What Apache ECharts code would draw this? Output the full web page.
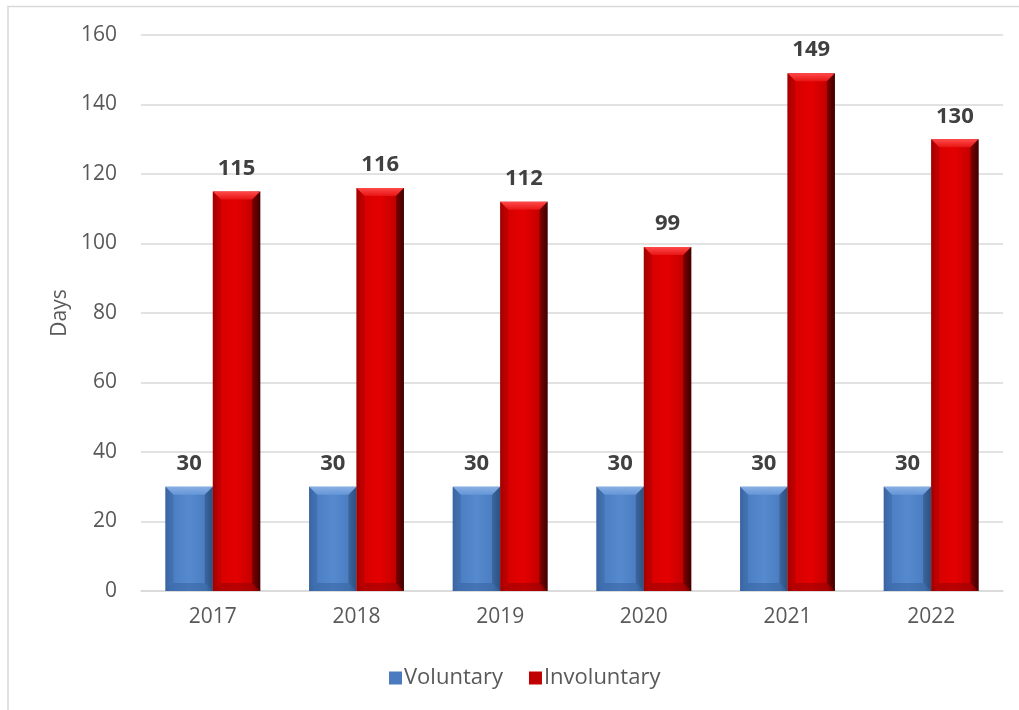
<!DOCTYPE html>
<html>
<head>
<meta charset="utf-8">
<script src="https://cdn.jsdelivr.net/npm/echarts@6/dist/echarts.min.js"></script>
<style>
  html, body { margin: 0; padding: 0; background: #fff; }
  #chart { width: 1019px; height: 710px; }
</style>
</head>
<body>
<div id="chart"></div>
<script>
// Waiting periods (days) by year
const years = ['2017', '2018', '2019', '2020', '2021', '2022'];
const voluntary = [30, 30, 30, 30, 30, 30];
const involuntary = [115, 116, 112, 99, 149, 130];
const yTicks = [0, 20, 40, 60, 80, 100, 120, 140, 160];

const FONT = '"Open Sans", "Liberation Sans", sans-serif';

// Bevelled bar palettes
const palettes = {
  blue: {
    legend: '#4A7BBE',
    face: ['#3A65A2', '#4A7DC2', '#568ACF', '#4A7DC0', '#2D5486'],
    top: ['#86AEE4', '#6696D6'],
    left: '#3A64A0',
    right: '#2B4F7E',
    bottom: '#34609A'
  },
  red: {
    legend: '#C00000',
    face: ['#9A0000', '#D60000', '#E40000', '#C20000', '#480000'],
    top: ['#FF4A4A', '#E81414'],
    left: '#A80000',
    right: '#3A0000',
    bottom: '#900000'
  }
};

function faceGradient(c) {
  return new echarts.graphic.LinearGradient(0, 0, 1, 0, [
    { offset: 0, color: c[0] },
    { offset: 0.12, color: c[1] },
    { offset: 0.5, color: c[2] },
    { offset: 0.85, color: c[3] },
    { offset: 1, color: c[4] }
  ]);
}

function bevelBar(pal, side) {
  return function (params, api) {
    const idx = api.value(0);
    const val = api.value(1);
    const base = api.coord([idx, 0]);
    const top = api.coord([idx, val]);
    const band = api.size([1, 0])[0];
    const w = band * 0.33;
    const x0 = side < 0 ? base[0] - w : base[0];
    const x1 = x0 + w;
    const y0 = top[1];
    const y1 = base[1];
    const b = Math.min(8, w / 5);
    return {
      type: 'group',
      children: [
        { type: 'rect', shape: { x: x0, y: y0, width: w, height: y1 - y0 },
          style: { fill: faceGradient(pal.face) } },
        { type: 'polygon', shape: { points: [[x0, y0], [x1, y0], [x1 - b, y0 + b], [x0 + b, y0 + b]] },
          style: { fill: new echarts.graphic.LinearGradient(0, 0, 0, 1, [
            { offset: 0, color: pal.top[0] }, { offset: 1, color: pal.top[1] }]) } },
        { type: 'polygon', shape: { points: [[x0, y0], [x0 + b, y0 + b], [x0 + b, y1 - b], [x0, y1]] },
          style: { fill: pal.left, opacity: 0.5 } },
        { type: 'polygon', shape: { points: [[x1, y0], [x1, y1], [x1 - b, y1 - b], [x1 - b, y0 + b]] },
          style: { fill: pal.right, opacity: 0.55 } },
        { type: 'polygon', shape: { points: [[x0, y1], [x0 + b, y1 - b], [x1 - b, y1 - b], [x1, y1]] },
          style: { fill: pal.bottom, opacity: 0.5 } },
        { type: 'text', x: (x0 + x1) / 2, y: y0 - 12,
          style: { text: String(val), fill: '#404040', font: 'bold 22px ' + FONT,
                   textAlign: 'center', textVerticalAlign: 'bottom' } }
      ]
    };
  };
}

const chart = echarts.init(document.getElementById('chart'), null, { renderer: 'canvas' });

chart.setOption({
  backgroundColor: '#ffffff',
  animation: false,
  graphic: [
    { type: 'polyline', shape: { points: [[8, 710], [8, 6.5], [1019, 6.5]] },
      style: { stroke: '#d9d9d9', lineWidth: 1.5, fill: null } }
  ],
  grid: { left: 141, right: 16, top: 35, bottom: 119, containLabel: false },
  legend: {
    top: 662,
    left: 384,
    itemWidth: 13,
    itemHeight: 13,
    itemGap: 26,
    icon: 'rect',
    textStyle: { fontFamily: FONT, fontSize: 22, color: '#595959', padding: [0, 0, 0, -3] },
    data: ['Voluntary', 'Involuntary']
  },
  xAxis: {
    type: 'category',
    data: years,
    axisLine: { show: true, lineStyle: { color: '#d9d9d9', width: 1.5 } },
    axisTick: { show: false },
    axisLabel: { fontFamily: FONT, fontSize: 21, color: '#595959', margin: 16 }
  },
  yAxis: {
    type: 'value',
    min: yTicks[0],
    max: yTicks[yTicks.length - 1],
    interval: yTicks[1] - yTicks[0],
    name: 'Days',
    nameLocation: 'middle',
    nameGap: 68,
    nameRotate: 90,
    nameTextStyle: { fontFamily: FONT, fontSize: 21, color: '#595959' },
    axisLine: { show: false },
    axisTick: { show: false },
    splitLine: { lineStyle: { color: '#d9d9d9', width: 1.5 } },
    axisLabel: { fontFamily: FONT, fontSize: 21, color: '#595959', margin: 24 }
  },
  series: [
    {
      name: 'Voluntary',
      type: 'custom',
      itemStyle: { color: palettes.blue.legend },
      renderItem: bevelBar(palettes.blue, -1),
      encode: { x: 0, y: 1 },
      data: voluntary.map((v, i) => [i, v]),
      z: 3
    },
    {
      name: 'Involuntary',
      type: 'custom',
      itemStyle: { color: palettes.red.legend },
      renderItem: bevelBar(palettes.red, 1),
      encode: { x: 0, y: 1 },
      data: involuntary.map((v, i) => [i, v]),
      z: 3
    }
  ]
});
</script>
</body>
</html>
